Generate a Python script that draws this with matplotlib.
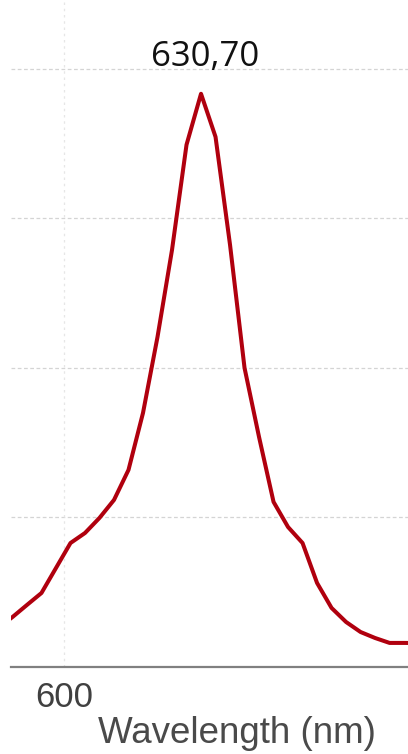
import numpy as np
import matplotlib.pyplot as plt

# spectrum (nm, arbitrary intensity)
wavelength = [585.20, 588.45, 591.70, 594.95, 598.20, 601.45, 604.70, 607.95, 611.20,
              614.45, 617.70, 620.95, 624.20, 627.45, 630.70, 633.95, 637.20,
              640.45, 643.70, 646.95, 650.20, 653.45, 656.70, 659.95, 663.20,
              666.45, 669.70, 672.95, 676.20, 679.45]
intensity = [0.26, 0.334, 0.415, 0.495, 0.662, 0.829, 0.896, 0.997, 1.117,
             1.318, 1.699, 2.207, 2.789, 3.492, 3.833, 3.545, 2.823,
             2.000, 1.538, 1.104, 0.936, 0.829, 0.562, 0.395, 0.301,
             0.234, 0.194, 0.161, 0.161, 0.16]
peak_label = "630,70"
x_ticks = [600]
y_grid = [1, 2, 3, 4]

fig = plt.figure(figsize=(4.08, 7.54), dpi=100)
ax = fig.add_axes([11 / 408, 1 - 667 / 754, 397 / 408, 667 / 754])

ax.plot(wavelength, intensity, color='#b0000e', lw=2.9, solid_joinstyle='round', zorder=3)

ax.set_xlim(588.12, 677.08)
ax.set_ylim(0, 4.46)

for v in y_grid:
    ax.axhline(v, color='#d4d4d4', lw=0.9, ls=(0, (3, 2)), zorder=1)
for v in x_ticks:
    ax.axvline(v, color='#e6e6e6', lw=0.9, ls=(0, (2, 3)), zorder=1)

ax.set_xticks(x_ticks)
ax.set_xticklabels([str(t) for t in x_ticks], fontsize=25, color='#404040',
                   family=['Liberation Sans', 'DejaVu Sans'])
ax.tick_params(axis='x', length=0, pad=10)
ax.set_yticks([])

for s in ['top', 'left', 'right']:
    ax.spines[s].set_visible(False)
ax.spines['bottom'].set_color('#808080')
ax.spines['bottom'].set_linewidth(1.6)

ax.set_xlabel('Wavelength (nm)', fontsize=26.5, color='#4a4a4a',
              family=['Liberation Sans', 'DejaVu Sans'])
ax.xaxis.set_label_coords(0.569, -0.073)

ax.text(631.6, 4.02, peak_label, ha='center', va='baseline', fontsize=25,
        color='#111111', family=['Open Sans', 'DejaVu Sans'])

fig.savefig('out.png', dpi=100)
